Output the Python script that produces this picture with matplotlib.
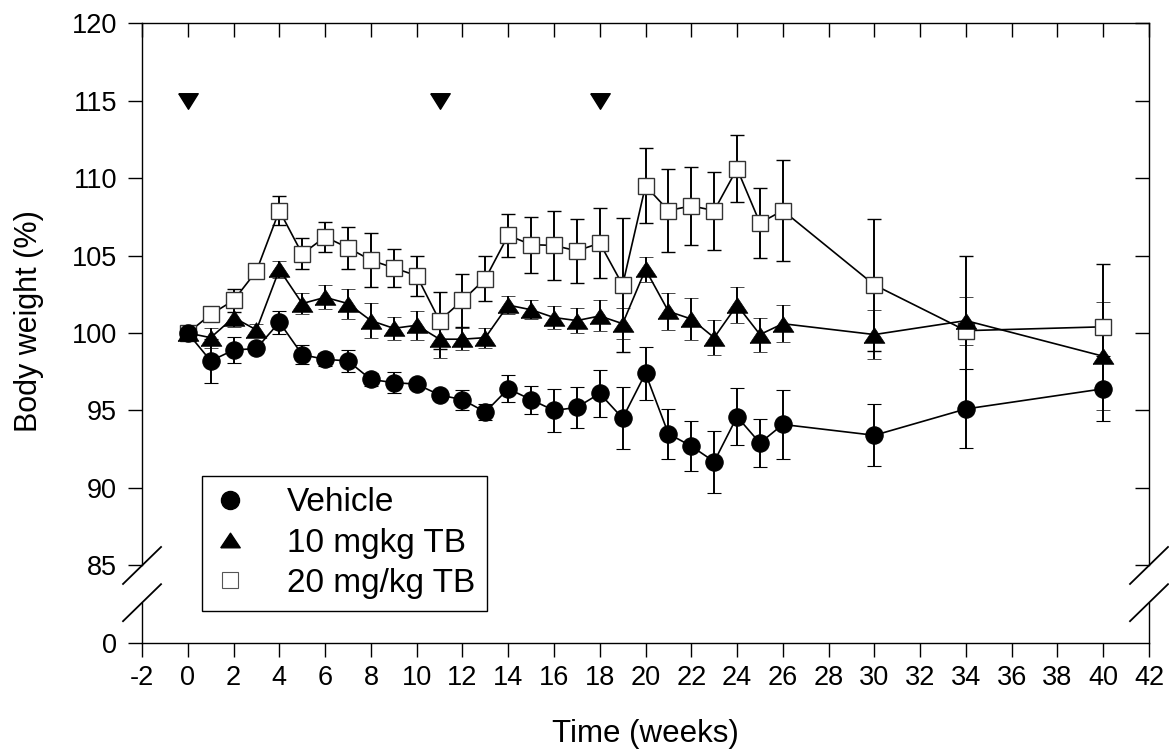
import matplotlib
matplotlib.use("Agg")
import matplotlib.pyplot as plt
from matplotlib.lines import Line2D
import matplotlib.transforms as mtransforms

plt.rcParams['font.family'] = ['Liberation Sans', 'DejaVu Sans']
plt.rcParams['axes.unicode_minus'] = False

# weeks of measurement
weeks = [0, 1, 2, 3, 4, 5, 6, 7, 8, 9, 10, 11, 12, 13, 14, 15, 16, 17, 18, 19,
         20, 21, 22, 23, 24, 25, 26, 30, 34, 40]

# body weight (%) - mean and error for each group
vehicle = [100.0, 98.2, 98.9, 99.0, 100.7, 98.6, 98.3, 98.2, 97.0, 96.8,
           96.7, 96.0, 95.7, 94.9, 96.4, 95.7, 95.0, 95.2, 96.1, 94.5,
           97.4, 93.5, 92.7, 91.7, 94.6, 92.9, 94.1, 93.4, 95.1, 96.4]
vehicle_err = [0.0, 1.4, 0.85, 0.3, 0.75, 0.6, 0.4, 0.7, 0.4, 0.7,
               0.3, 0.3, 0.65, 0.5, 0.86, 0.9, 1.4, 1.3, 1.5, 2.0,
               1.7, 1.6, 1.6, 2.0, 1.85, 1.55, 2.2, 2.0, 2.55, 2.1]

tb10 = [100.0, 99.7, 101.0, 100.2, 104.1, 101.9, 102.3, 101.9, 100.8, 100.3,
        100.5, 99.6, 99.6, 99.7, 101.8, 101.5, 101.0, 100.8, 101.1, 100.6,
        104.1, 101.4, 100.9, 99.7, 101.8, 99.9, 100.6, 99.9, 100.8, 98.5]
tb10_err = [0.0, 0.65, 0.6, 0.4, 0.55, 0.67, 0.78, 0.97, 1.13, 0.75,
            0.94, 1.2, 0.7, 0.65, 0.6, 0.6, 0.75, 0.83, 1.0, 1.0,
            0.78, 1.2, 1.35, 1.15, 1.16, 1.1, 1.2, 1.6, 1.55, 3.5]

tb20 = [100.0, 101.2, 102.1, 104.0, 107.9, 105.1, 106.2, 105.5, 104.7, 104.2,
        103.7, 100.8, 102.1, 103.5, 106.3, 105.7, 105.65, 105.3, 105.8, 103.1,
        109.5, 107.9, 108.2, 107.9, 110.6, 107.1, 107.9, 103.1, 100.15, 100.4]
tb20_err = [0.0, 0.4, 0.77, 0.3, 0.93, 1.0, 0.97, 1.35, 1.75, 1.2,
            1.3, 1.86, 1.72, 1.45, 1.4, 1.8, 2.2, 2.05, 2.28, 4.35,
            2.42, 2.7, 2.54, 2.52, 2.15, 2.24, 3.24, 4.24, 4.85, 4.06]

# treatment weeks (arrow heads on top)
dose_weeks = [0, 11, 18]
dose_level = [115, 115, 115]

labels = ['Vehicle', '10 mgkg TB', '20 mg/kg TB']

# y axis is broken: the "0" tick sits where 80 would be
y_ticks = [80, 85, 90, 95, 100, 105, 110, 115, 120]
y_tick_labels = ['0', '85', '90', '95', '100', '105', '110', '115', '120']
x_ticks = list(range(-2, 43, 2))

# triangles a bit flatter than matplotlib's default ones
tri_up = [(-1, -0.75), (1, -0.75), (0, 0.75), (-1, -0.75)]
tri_down = [(-1, 0.8), (1, 0.8), (0, -0.8), (-1, 0.8)]

fig = plt.figure(figsize=(11.69, 7.5), dpi=100)
ax = fig.add_axes([0.1215, 0.1427, 0.8614, 0.8266])

common = dict(color='black', lw=1.2, ecolor='black', elinewidth=1.4,
              capsize=5, capthick=1.4)

ax.errorbar(weeks, tb20, yerr=tb20_err, marker='s', ms=11.5, mfc='white',
            mec='#333333', mew=1.0, **common)
ax.errorbar(weeks, tb10, yerr=tb10_err, marker=tri_up, ms=15, mfc='black',
            mec='black', mew=0.5, **common)
ax.errorbar(weeks, vehicle, yerr=vehicle_err, marker='o', ms=12.5, mfc='black',
            mec='black', mew=0.8, **common)

ax.plot(dose_weeks, dose_level, linestyle='none', marker=tri_down, ms=14,
        color='black')

ax.set_xlim(-2, 42)
ax.set_ylim(80, 120)
ax.set_xticks(x_ticks)
ax.set_yticks(y_ticks)
ax.set_yticklabels(y_tick_labels)

ax.tick_params(axis='x', bottom=True, top=False, direction='out', length=10,
               width=1, labelsize=19.5, pad=6)
ax.tick_params(axis='y', left=True, right=False, direction='out', length=10,
               width=1, labelsize=19.5, pad=8)

# ticks pointing inside on top and right
sec_x = ax.secondary_xaxis('top')
sec_x.set_xticks(x_ticks)
sec_x.tick_params(direction='in', length=10, width=1, labeltop=False)
sec_x.spines['top'].set_visible(False)

sec_y = ax.secondary_yaxis('right')
sec_y.set_yticks(y_ticks[1:])
sec_y.tick_params(direction='in', length=10, width=1, labelright=False)
sec_y.spines['right'].set_visible(False)

for s in ['left', 'right', 'top', 'bottom']:
    ax.spines[s].set_linewidth(1.0)

# axis break
break_hi = 85
break_lo = 82.6
ax.spines['left'].set_bounds(break_hi, 120)
ax.spines['right'].set_bounds(break_hi, 120)
blend = mtransforms.blended_transform_factory(ax.transAxes, ax.transData)
for xa in [0, 1]:
    ax.plot([xa, xa], [80, break_lo], color='black', lw=1.0, transform=blend,
            clip_on=False)

dx = 19 / 1007
dy = 18.5 / 620
for xa in [0, 1]:
    for yv in [break_hi, break_lo]:
        yc = (yv - 80) / 40
        ax.plot([xa - dx, xa + dx], [yc - dy, yc + dy], color='black', lw=1.3,
                transform=ax.transAxes, clip_on=False)

ax.set_xlabel('Time (weeks)', fontsize=22.5)
ax.set_ylabel('Body weight (%)', fontsize=22)
ax.xaxis.set_label_coords(0.5, -0.123)
ax.yaxis.set_label_coords(-0.097, 0.519)

legend_elements = [
    Line2D([0], [0], linestyle='none', marker='o', ms=13, color='black'),
    Line2D([0], [0], linestyle='none', marker=tri_up, ms=14, color='black'),
    Line2D([0], [0], linestyle='none', marker='s', ms=11, mfc='white',
           mec='#555555', mew=0.8),
]
leg = ax.legend(legend_elements, labels, loc='upper left',
                bbox_to_anchor=(0.0593, 0.2698), borderaxespad=0, fontsize=24,
                frameon=True, fancybox=False, framealpha=1, edgecolor='black',
                handlelength=1.0, handletextpad=1.2, labelspacing=0.28,
                borderpad=0.35)
leg.get_frame().set_linewidth(1.0)

fig.savefig('out.png', dpi=100)
